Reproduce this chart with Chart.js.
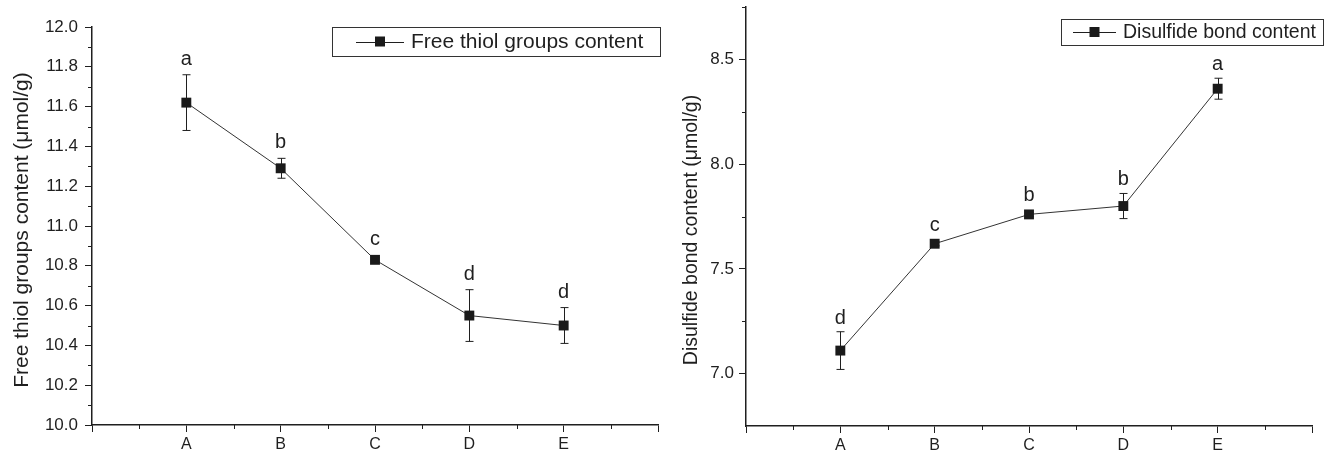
<!DOCTYPE html>
<html><head><meta charset="utf-8">
<script src="https://cdn.jsdelivr.net/npm/chart.js@4"></script>
<style>
html,body{margin:0;padding:0;background:#fff;}
#wrap{position:relative;width:1332px;height:458px;overflow:hidden;background:#fff;}
.panel{position:absolute;top:0;width:666px;height:458px;}
</style></head><body>
<div id="wrap">
<div class="panel" style="left:0"><canvas id="c1" width="666" height="458"></canvas></div>
<div class="panel" style="left:666px"><canvas id="c2" width="666" height="458"></canvas></div>
</div>
<script>
const categories = ['A', 'B', 'C', 'D', 'E'];

const thiolValues  = [11.62, 11.29, 10.83, 10.55, 10.50];
const thiolErrors  = [0.14, 0.05, 0.01, 0.13, 0.09];
const thiolLetters = ['a', 'b', 'c', 'd', 'd'];
const thiolTicks   = [10.0, 10.2, 10.4, 10.6, 10.8, 11.0, 11.2, 11.4, 11.6, 11.8, 12.0];

const disulfideValues  = [7.11, 7.62, 7.76, 7.80, 8.36];
const disulfideErrors  = [0.09, 0.01, 0.01, 0.06, 0.05];
const disulfideLetters = ['d', 'c', 'b', 'b', 'a'];
const disulfideTicks   = [7.0, 7.5, 8.0, 8.5];

const FONT = '"Liberation Sans", Arial, Helvetica, sans-serif';
const INK = '#1f1f1f';

const decor = {
  id: 'decor',
  beforeDatasetsDraw(chart, args, o) {
    const {ctx, scales: {x, y}} = chart;
    ctx.save();
    ctx.strokeStyle = INK; ctx.lineWidth = 1;
    chart.data.datasets.forEach(ds => {
      ds.data.forEach((p, i) => {
        const e = ds.errors[i];
        const px = Math.round(x.getPixelForValue(p.x)) + 0.5;
        const yt = y.getPixelForValue(p.y + e), yb = y.getPixelForValue(p.y - e);
        ctx.beginPath();
        ctx.moveTo(px, yt); ctx.lineTo(px, yb);
        ctx.moveTo(px - 4, yt); ctx.lineTo(px + 4, yt);
        ctx.moveTo(px - 4, yb); ctx.lineTo(px + 4, yb);
        ctx.stroke();
      });
    });
    ctx.restore();
  },
  afterDraw(chart, args, o) {
    const {ctx, scales: {x, y}, chartArea} = chart;
    ctx.save();
    // minor ticks
    ctx.strokeStyle = INK; ctx.lineWidth = 1;
    ctx.beginPath();
    o.minorX.forEach(v => {
      const px = Math.round(x.getPixelForValue(v)) + 0.5;
      ctx.moveTo(px, chartArea.bottom); ctx.lineTo(px, chartArea.bottom + 4);
    });
    o.minorY.forEach(v => {
      const py = Math.round(y.getPixelForValue(v)) + 0.5;
      ctx.moveTo(chartArea.left, py); ctx.lineTo(chartArea.left - 4, py);
    });
    ctx.stroke();
    // significance letters
    ctx.fillStyle = INK;
    ctx.font = o.letterSize + 'px ' + FONT;
    ctx.textAlign = 'center'; ctx.textBaseline = 'alphabetic';
    chart.data.datasets.forEach(ds => {
      ds.data.forEach((p, i) => {
        const top = Math.min(y.getPixelForValue(p.y + ds.errors[i]), y.getPixelForValue(p.y) - 5);
        ctx.fillText(ds.letters[i], x.getPixelForValue(p.x), top - o.letterGap);
      });
    });
    // y axis title
    const T = o.title;
    ctx.save();
    ctx.translate(T.x, T.y);
    ctx.rotate(-Math.PI / 2);
    ctx.font = T.size + 'px ' + FONT;
    ctx.textAlign = 'center'; ctx.textBaseline = 'alphabetic';
    ctx.fillText(T.text, 0, 0);
    ctx.restore();
    // legend
    const L = o.legend;
    const ds = chart.data.datasets[0];
    ctx.strokeStyle = '#333'; ctx.lineWidth = 1;
    ctx.strokeRect(L.x + 0.5, L.y + 0.5, L.w, L.h);
    const cy = L.y + L.h / 2;
    ctx.strokeStyle = INK;
    ctx.beginPath(); ctx.moveTo(L.lx1, Math.round(cy) + 0.5); ctx.lineTo(L.lx2, Math.round(cy) + 0.5); ctx.stroke();
    ctx.fillStyle = '#1a1a1a';
    const mx = (L.lx1 + L.lx2) / 2;
    ctx.fillRect(mx - 5, cy - 5, 10, 10);
    ctx.fillStyle = INK;
    ctx.font = L.size + 'px ' + FONT;
    ctx.textAlign = 'left'; ctx.textBaseline = 'middle';
    ctx.fillText(ds.label, L.tx, cy + 1);
    ctx.restore();
  }
};

function fixAxis(w, h) {
  return function (s) {
    if (w !== null) s.width = w;
    if (h !== null) s.height = h;
    s.paddingTop = 0; s.paddingBottom = 0; s.paddingLeft = 0; s.paddingRight = 0;
  };
}

function makePanel(id, cfg) {
  const minorX = [];
  for (let i = 0; i < 6; i++) minorX.push(i + 0.5);
  new Chart(document.getElementById(id), {
    type: 'line',
    data: {
      datasets: [{
        label: cfg.label,
        data: categories.map((c, i) => ({x: i + 1, y: cfg.values[i]})),
        errors: cfg.errors,
        letters: cfg.letters,
        borderColor: '#333',
        borderWidth: 1,
        pointStyle: 'rect',
        pointRadius: 7,
        pointHoverRadius: 7,
        pointBackgroundColor: '#1a1a1a',
        pointBorderColor: '#1a1a1a',
        pointBorderWidth: 0,
        tension: 0,
        fill: false
      }]
    },
    options: {
      responsive: false,
      animation: false,
      events: [],
      layout: {padding: cfg.padding},
      scales: {
        x: {
          type: 'linear', min: 0, max: 6,
          afterBuildTicks: s => { s.ticks = [0, 1, 2, 3, 4, 5, 6].map(v => ({value: v})); },
          afterFit: fixAxis(null, cfg.xHeight),
          ticks: {
            callback: v => categories[v - 1] || '',
            color: INK, font: {family: FONT, size: 16}, padding: 3, maxRotation: 0, autoSkip: false
          },
          grid: {display: true, drawOnChartArea: false, tickLength: 7, color: INK, tickColor: INK, tickWidth: 1},
          border: {display: true, color: INK, width: 1.5}
        },
        y: {
          type: 'linear', min: cfg.min, max: cfg.max,
          afterBuildTicks: s => { s.ticks = cfg.ticks.map(v => ({value: v})); },
          afterFit: fixAxis(cfg.yWidth, null),
          ticks: {
            callback: v => v.toFixed(1),
            color: INK, font: {family: FONT, size: 17}, padding: cfg.tickPad, autoSkip: false
          },
          grid: {display: true, drawOnChartArea: false, tickLength: 7, color: INK, tickColor: INK, tickWidth: 1},
          border: {display: true, color: INK, width: 1.5},
          title: {display: false}
        }
      },
      plugins: {
        legend: {display: false},
        tooltip: {enabled: false},
        decor: {
          minorX: minorX,
          minorY: cfg.minorY,
          letterSize: 20,
          letterGap: cfg.letterGap,
          legend: cfg.legend,
          title: cfg.title
        }
      }
    },
    plugins: [decor]
  });
}

const thiolMinor = [];
for (let i = 0; i < 10; i++) thiolMinor.push(10.1 + i * 0.2);

makePanel('c1', {
  label: 'Free thiol groups content',
  values: thiolValues, errors: thiolErrors, letters: thiolLetters,
  ticks: thiolTicks, min: 10.0, max: 12.0,
  minorY: thiolMinor,
  title: {text: 'Free thiol groups content (μmol/g)', size: 21, x: 28, y: 230},
  padding: {top: 27, right: 8, left: 0, bottom: 0},
  xHeight: 33, yWidth: 92, tickPad: 7,
  letterGap: 10,
  legend: {x: 332, y: 27, w: 328, h: 29, lx1: 356, lx2: 404, tx: 411, size: 21}
});

makePanel('c2', {
  label: 'Disulfide bond content',
  values: disulfideValues, errors: disulfideErrors, letters: disulfideLetters,
  ticks: disulfideTicks, min: 6.75, max: 8.75,
  minorY: [7.25, 7.75, 8.25, 8.75],
  title: {text: 'Disulfide bond content (μmol/g)', size: 19.5, x: 31, y: 230},
  padding: {top: 7, right: 20, left: 0, bottom: 0},
  xHeight: 32, yWidth: 80, tickPad: 5,
  letterGap: 8,
  legend: {x: 395, y: 19, w: 262, h: 26, lx1: 407, lx2: 450, tx: 457, size: 19.5}
});
</script>
</body></html>
